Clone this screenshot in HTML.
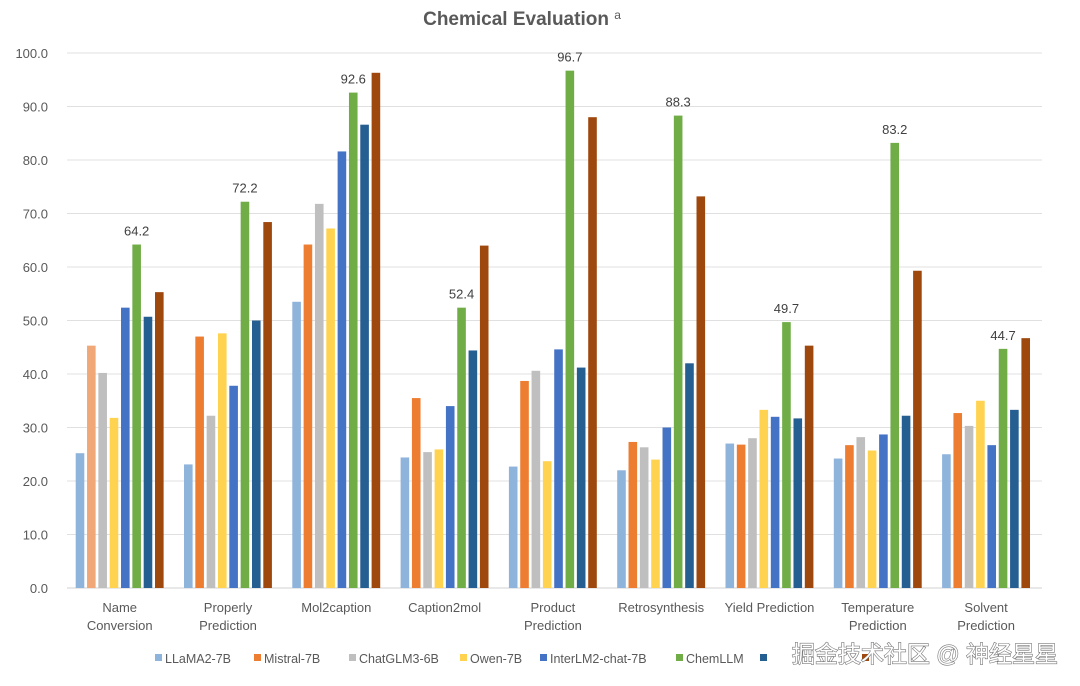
<!DOCTYPE html>
<html><head><meta charset="utf-8"><style>
html,body{margin:0;padding:0;background:#fff;}
svg{display:block;font-family:"Liberation Sans","Noto Sans CJK SC",sans-serif;}
</style></head><body>
<svg width="1080" height="686" xmlns="http://www.w3.org/2000/svg" id="c">
<rect width="1080" height="686" fill="#fff"/>
<text x="522" y="25" text-anchor="middle" font-size="19" font-weight="bold" fill="#595959">Chemical Evaluation <tspan font-size="12" font-weight="normal" dy="-6">a</tspan></text>
<g id="grid"></g>
<g id="bars"></g>
<g id="labels" font-size="13" fill="#595959"></g>
<g font-size="12.5" fill="#595959">
<rect x="155" y="654" width="7" height="7" fill="#8fb4dc"/><text x="165" y="663">LLaMA2-7B</text>
<rect x="254" y="654" width="7" height="7" fill="#ed7d31"/><text x="264" y="663">Mistral-7B</text>
<rect x="349" y="654" width="7" height="7" fill="#bfbfbf"/><text x="359" y="663">ChatGLM3-6B</text>
<rect x="460" y="654" width="7" height="7" fill="#ffd34f"/><text x="470" y="663">Owen-7B</text>
<rect x="540" y="654" width="7" height="7" fill="#4472c4"/><text x="550" y="663">InterLM2-chat-7B</text>
<rect x="676" y="654" width="7" height="7" fill="#70ad47"/><text x="686" y="663">ChemLLM</text>
<rect x="760" y="654" width="7" height="7" fill="#255e91"/>
<rect x="862" y="654" width="7" height="7" fill="#9e480e"/>
</g>
<text x="1058" y="662" text-anchor="end" font-size="23" fill="#fff" stroke="#777" stroke-width="1.2" paint-order="stroke">掘金技术社区 @ 神经星星</text>
</svg>
<script>
const NS="http://www.w3.org/2000/svg";
const y0=588,k=5.35;
const g=document.getElementById('grid');
function el(t,a,p,txt){const e=document.createElementNS(NS,t);for(const x in a)e.setAttribute(x,a[x]);if(txt!==undefined)e.textContent=txt;p.appendChild(e);return e;}
for(let i=0;i<=10;i++){const y=y0-i*10*k;
el('line',{x1:67,x2:1042,y1:y,y2:y,stroke:i==0?'#d0d0d0':'#e0e0e0','stroke-width':1},g);
el('text',{x:48,y:y+5,'text-anchor':'end','font-size':13,fill:'#595959'},g,(i*10).toFixed(1));}
const cols=['#8fb4dc','#ed7d31','#bfbfbf','#ffd34f','#4472c4','#70ad47','#255e91','#9e480e'];
const data=[[25.2,45.3,40.2,31.8,52.4,64.2,50.7,55.3],[23.1,47.0,32.2,47.6,37.8,72.2,50.0,68.4],[53.5,64.2,71.8,67.2,81.6,92.6,86.6,96.3],[24.4,35.5,25.4,25.9,34.0,52.4,44.4,64.0],[22.7,38.7,40.6,23.7,44.6,96.7,41.2,88.0],[22.0,27.3,26.3,24.0,30.0,88.3,42.0,73.2],[27.0,26.8,28.0,33.3,32.0,49.7,31.7,45.3],[24.2,26.7,28.2,25.7,28.7,83.2,32.2,59.3],[25.0,32.7,30.3,35.0,26.7,44.7,33.3,46.7]];
const names=[["Name","Conversion"],["Properly","Prediction"],["Mol2caption"],["Caption2mol"],["Product","Prediction"],["Retrosynthesis"],["Yield Prediction"],["Temperature","Prediction"],["Solvent","Prediction"]];
const b=document.getElementById('bars'),L=document.getElementById('labels');
data.forEach((d,gi)=>{const x0=75.7+gi*108.3;
d.forEach((v,j)=>{let c=cols[j];if(gi==0&&j==1)c='#f0a878';
el('rect',{x:x0+j*11.33,y:y0-v*k,width:8.6,height:v*k,fill:c},b);
if(j==5)el('text',{x:x0+j*11.33+4.3,y:y0-v*k-9,'text-anchor':'middle','font-size':13,fill:'#404040'},b,v.toFixed(1));});
const cx=x0+44;const n=names[gi];
n.forEach((s,i)=>el('text',{x:cx,y:612+i*18,'text-anchor':'middle'},L,s));});
</script>
</body></html>
